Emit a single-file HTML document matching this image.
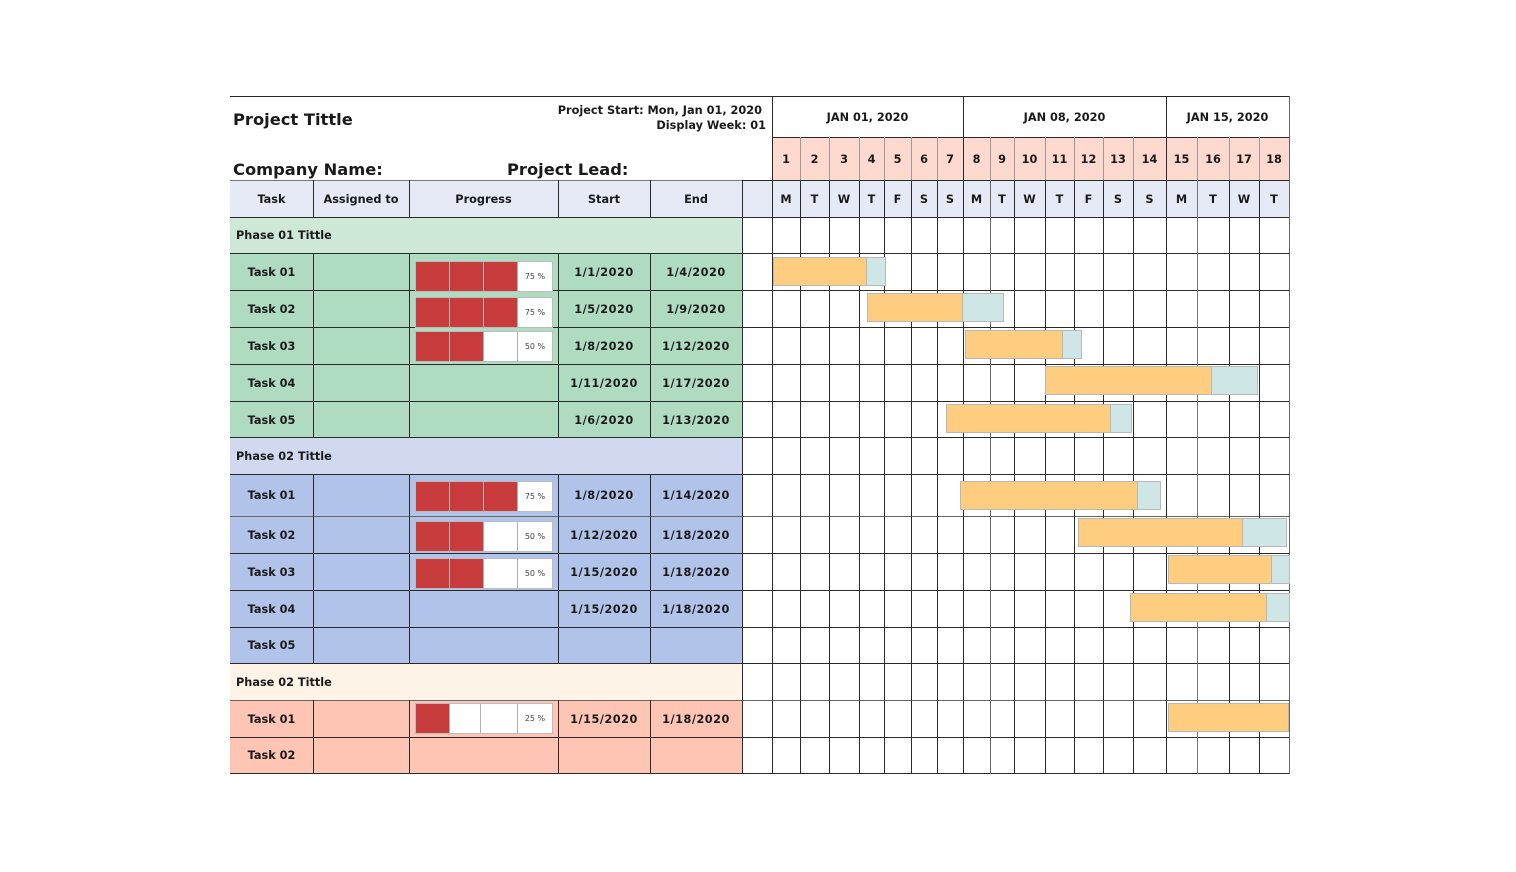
<!DOCTYPE html>
<html><head><meta charset="utf-8">
<style>
html,body{margin:0;padding:0;background:#fff;}
body{width:1516px;height:872px;position:relative;overflow:hidden;font-family:"DejaVu Sans","Liberation Sans",sans-serif;font-weight:bold;color:#1a1a1a;}
.a{position:absolute;}
.h{position:absolute;height:1px;background:#2a2a2a;}
.v{position:absolute;width:1px;background:#2a2a2a;}
.t{position:absolute;text-align:center;font-size:11.3px;white-space:nowrap;margin-top:1px;}
.d{letter-spacing:0.5px;}
.pb{position:absolute;left:415px;width:136px;height:29px;border:1px solid #bcbcbc;background:#fff;display:flex;}
.pb div{height:29px;border-right:1px solid #b0b0b0;box-sizing:border-box;}
.pb .r{background:#c83c3e;}
.pb .p{border-right:none;font-weight:normal;font-size:8px;color:#444;text-align:center;line-height:29px;}
.bar{position:absolute;height:29px;box-sizing:border-box;border:1px solid #b8b8b8;background:#fecd80;}
.cy{position:absolute;height:29px;box-sizing:border-box;border:1px solid #b8b8b8;background:#cfe6e7;}
</style></head><body>

<!-- backgrounds -->
<div class="a" style="left:230px;top:180px;width:1059px;height:37px;background:#e6eaf6"></div>
<div class="a" style="left:772px;top:137px;width:517px;height:43px;background:#fdd9cf"></div>
<div class="a" style="left:230px;top:217px;width:512px;height:36px;background:#cde8d7"></div>
<div class="a" style="left:230px;top:253px;width:512px;height:184px;background:#afdcc0"></div>
<div class="a" style="left:230px;top:437px;width:512px;height:37px;background:#d1d9f1"></div>
<div class="a" style="left:230px;top:474px;width:512px;height:189px;background:#b2c3e9"></div>
<div class="a" style="left:230px;top:663px;width:512px;height:37px;background:#fef3e7"></div>
<div class="a" style="left:230px;top:700px;width:512px;height:73px;background:#fec4b4"></div>

<!-- horizontal lines -->
<div class="h" style="left:230px;top:96px;width:1060px"></div>
<div class="h" style="left:772px;top:137px;width:518px"></div>
<div class="h" style="left:230px;top:180px;width:512px;background:#777"></div>
<div class="h" style="left:742px;top:180px;width:548px"></div>
<div class="h" style="left:230px;top:217px;width:1060px"></div>
<div class="h" style="left:230px;top:253px;width:1060px"></div>
<div class="h" style="left:230px;top:290px;width:1060px"></div>
<div class="h" style="left:230px;top:327px;width:1060px"></div>
<div class="h" style="left:230px;top:364px;width:1060px"></div>
<div class="h" style="left:230px;top:401px;width:1060px"></div>
<div class="h" style="left:230px;top:437px;width:1060px"></div>
<div class="h" style="left:230px;top:474px;width:1060px"></div>
<div class="h" style="left:230px;top:516px;width:1060px;background:#666"></div>
<div class="h" style="left:230px;top:553px;width:1060px"></div>
<div class="h" style="left:230px;top:590px;width:1060px"></div>
<div class="h" style="left:230px;top:627px;width:1060px"></div>
<div class="h" style="left:230px;top:663px;width:1060px"></div>
<div class="h" style="left:230px;top:700px;width:1060px;background:#666"></div>
<div class="h" style="left:230px;top:737px;width:1060px"></div>
<div class="h" style="left:230px;top:773px;width:1060px"></div>

<!-- left table verticals -->
<div class="v" style="left:313px;top:180px;height:37px"></div>
<div class="v" style="left:313px;top:253px;height:184px"></div>
<div class="v" style="left:313px;top:474px;height:189px"></div>
<div class="v" style="left:313px;top:700px;height:73px"></div>
<div class="v" style="left:409px;top:180px;height:37px"></div>
<div class="v" style="left:409px;top:253px;height:184px"></div>
<div class="v" style="left:409px;top:474px;height:189px"></div>
<div class="v" style="left:409px;top:700px;height:73px"></div>
<div class="v" style="left:558px;top:180px;height:37px"></div>
<div class="v" style="left:558px;top:253px;height:184px"></div>
<div class="v" style="left:558px;top:474px;height:189px"></div>
<div class="v" style="left:558px;top:700px;height:73px"></div>
<div class="v" style="left:650px;top:180px;height:37px"></div>
<div class="v" style="left:650px;top:253px;height:184px"></div>
<div class="v" style="left:650px;top:474px;height:189px"></div>
<div class="v" style="left:650px;top:700px;height:73px"></div>
<div class="v" style="left:742px;top:180px;height:594px"></div>
<div class="v" style="left:772px;top:96px;height:678px"></div>

<!-- gantt verticals -->
<div class="v" style="left:963px;top:96px;height:678px"></div>
<div class="v" style="left:1166px;top:96px;height:678px"></div>
<div class="v" style="left:1289px;top:96px;height:678px;background:#666"></div>

<div class="v" style="left:800px;top:137px;height:43px;background:#a09a9a"></div><div class="v" style="left:800px;top:180px;height:594px"></div>
<div class="v" style="left:829px;top:137px;height:43px;background:#a09a9a"></div><div class="v" style="left:829px;top:180px;height:594px"></div>
<div class="v" style="left:859px;top:137px;height:43px;background:#a09a9a"></div><div class="v" style="left:859px;top:180px;height:594px"></div>
<div class="v" style="left:884px;top:137px;height:43px;background:#a09a9a"></div><div class="v" style="left:884px;top:180px;height:594px"></div>
<div class="v" style="left:911px;top:137px;height:43px;background:#a09a9a"></div><div class="v" style="left:911px;top:180px;height:594px"></div>
<div class="v" style="left:937px;top:137px;height:43px;background:#a09a9a"></div><div class="v" style="left:937px;top:180px;height:594px"></div>
<div class="v" style="left:990px;top:137px;height:43px;background:#a09a9a"></div><div class="v" style="left:990px;top:180px;height:594px;background:#666"></div>
<div class="v" style="left:1014px;top:137px;height:43px;background:#a09a9a"></div><div class="v" style="left:1014px;top:180px;height:594px"></div>
<div class="v" style="left:1045px;top:137px;height:43px;background:#a09a9a"></div><div class="v" style="left:1045px;top:180px;height:594px"></div>
<div class="v" style="left:1074px;top:137px;height:43px;background:#a09a9a"></div><div class="v" style="left:1074px;top:180px;height:594px"></div>
<div class="v" style="left:1103px;top:137px;height:43px;background:#a09a9a"></div><div class="v" style="left:1103px;top:180px;height:594px"></div>
<div class="v" style="left:1133px;top:137px;height:43px;background:#a09a9a"></div><div class="v" style="left:1133px;top:180px;height:594px"></div>
<div class="v" style="left:1197px;top:137px;height:43px;background:#a09a9a"></div><div class="v" style="left:1197px;top:180px;height:594px;background:#777"></div>
<div class="v" style="left:1229px;top:137px;height:43px;background:#a09a9a"></div><div class="v" style="left:1229px;top:180px;height:594px"></div>
<div class="v" style="left:1259px;top:137px;height:43px;background:#a09a9a"></div><div class="v" style="left:1259px;top:180px;height:594px"></div>

<!-- title area -->
<div class="t" style="left:233px;top:107px;font-size:16.3px;line-height:24px;text-align:left">Project Tittle</div>
<div class="t" style="left:233px;top:157px;font-size:16.3px;line-height:24px;text-align:left">Company Name:</div>
<div class="t" style="left:507px;top:157px;font-size:16.3px;line-height:24px;text-align:left">Project Lead:</div>
<div class="t" style="left:460px;top:102px;width:302px;line-height:16px;text-align:right">Project Start: Mon, Jan 01, 2020</div>
<div class="t" style="left:460px;top:117px;width:306px;line-height:16px;text-align:right">Display Week: 01</div>

<!-- week labels -->
<div class="t" style="left:772px;top:96px;width:191px;line-height:41px">JAN 01, 2020</div>
<div class="t" style="left:963px;top:96px;width:203px;line-height:41px">JAN 08, 2020</div>
<div class="t" style="left:1166px;top:96px;width:123px;line-height:41px">JAN 15, 2020</div>

<!-- day numbers -->
<div class="t" style="left:772px;top:137px;width:28px;line-height:43px">1</div>
<div class="t" style="left:800px;top:137px;width:29px;line-height:43px">2</div>
<div class="t" style="left:829px;top:137px;width:30px;line-height:43px">3</div>
<div class="t" style="left:859px;top:137px;width:25px;line-height:43px">4</div>
<div class="t" style="left:884px;top:137px;width:27px;line-height:43px">5</div>
<div class="t" style="left:911px;top:137px;width:26px;line-height:43px">6</div>
<div class="t" style="left:937px;top:137px;width:26px;line-height:43px">7</div>
<div class="t" style="left:963px;top:137px;width:27px;line-height:43px">8</div>
<div class="t" style="left:990px;top:137px;width:24px;line-height:43px">9</div>
<div class="t" style="left:1014px;top:137px;width:31px;line-height:43px">10</div>
<div class="t" style="left:1045px;top:137px;width:29px;line-height:43px">11</div>
<div class="t" style="left:1074px;top:137px;width:29px;line-height:43px">12</div>
<div class="t" style="left:1103px;top:137px;width:30px;line-height:43px">13</div>
<div class="t" style="left:1133px;top:137px;width:33px;line-height:43px">14</div>
<div class="t" style="left:1166px;top:137px;width:31px;line-height:43px">15</div>
<div class="t" style="left:1197px;top:137px;width:32px;line-height:43px">16</div>
<div class="t" style="left:1229px;top:137px;width:30px;line-height:43px">17</div>
<div class="t" style="left:1259px;top:137px;width:30px;line-height:43px">18</div>

<!-- day letters -->
<div class="t" style="left:772px;top:180px;width:28px;line-height:37px">M</div>
<div class="t" style="left:800px;top:180px;width:29px;line-height:37px">T</div>
<div class="t" style="left:829px;top:180px;width:30px;line-height:37px">W</div>
<div class="t" style="left:859px;top:180px;width:25px;line-height:37px">T</div>
<div class="t" style="left:884px;top:180px;width:27px;line-height:37px">F</div>
<div class="t" style="left:911px;top:180px;width:26px;line-height:37px">S</div>
<div class="t" style="left:937px;top:180px;width:26px;line-height:37px">S</div>
<div class="t" style="left:963px;top:180px;width:27px;line-height:37px">M</div>
<div class="t" style="left:990px;top:180px;width:24px;line-height:37px">T</div>
<div class="t" style="left:1014px;top:180px;width:31px;line-height:37px">W</div>
<div class="t" style="left:1045px;top:180px;width:29px;line-height:37px">T</div>
<div class="t" style="left:1074px;top:180px;width:29px;line-height:37px">F</div>
<div class="t" style="left:1103px;top:180px;width:30px;line-height:37px">S</div>
<div class="t" style="left:1133px;top:180px;width:33px;line-height:37px">S</div>
<div class="t" style="left:1166px;top:180px;width:31px;line-height:37px">M</div>
<div class="t" style="left:1197px;top:180px;width:32px;line-height:37px">T</div>
<div class="t" style="left:1229px;top:180px;width:30px;line-height:37px">W</div>
<div class="t" style="left:1259px;top:180px;width:30px;line-height:37px">T</div>

<!-- header labels -->
<div class="t" style="left:230px;top:180px;width:83px;line-height:37px">Task</div>
<div class="t" style="left:313px;top:180px;width:96px;line-height:37px">Assigned to</div>
<div class="t" style="left:409px;top:180px;width:149px;line-height:37px">Progress</div>
<div class="t" style="left:558px;top:180px;width:92px;line-height:37px">Start</div>
<div class="t" style="left:650px;top:180px;width:92px;line-height:37px">End</div>

<!-- phase titles -->
<div class="t" style="left:236px;top:217px;line-height:36px;text-align:left">Phase 01 Tittle</div>
<div class="t" style="left:236px;top:437px;line-height:37px;text-align:left">Phase 02 Tittle</div>
<div class="t" style="left:236px;top:663px;line-height:37px;text-align:left">Phase 02 Tittle</div>

<!-- phase 1 rows -->
<div class="t" style="left:230px;top:253px;width:83px;line-height:37px">Task 01</div>
<div class="t d" style="left:558px;top:253px;width:92px;line-height:37px">1/1/2020</div>
<div class="t d" style="left:650px;top:253px;width:92px;line-height:37px">1/4/2020</div>
<div class="t" style="left:230px;top:290px;width:83px;line-height:37px">Task 02</div>
<div class="t d" style="left:558px;top:290px;width:92px;line-height:37px">1/5/2020</div>
<div class="t d" style="left:650px;top:290px;width:92px;line-height:37px">1/9/2020</div>
<div class="t" style="left:230px;top:327px;width:83px;line-height:37px">Task 03</div>
<div class="t d" style="left:558px;top:327px;width:92px;line-height:37px">1/8/2020</div>
<div class="t d" style="left:650px;top:327px;width:92px;line-height:37px">1/12/2020</div>
<div class="t" style="left:230px;top:364px;width:83px;line-height:37px">Task 04</div>
<div class="t d" style="left:558px;top:364px;width:92px;line-height:37px">1/11/2020</div>
<div class="t d" style="left:650px;top:364px;width:92px;line-height:37px">1/17/2020</div>
<div class="t" style="left:230px;top:401px;width:83px;line-height:37px">Task 05</div>
<div class="t d" style="left:558px;top:401px;width:92px;line-height:37px">1/6/2020</div>
<div class="t d" style="left:650px;top:401px;width:92px;line-height:37px">1/13/2020</div>

<!-- phase 2 rows -->
<div class="t" style="left:230px;top:474px;width:83px;line-height:42px">Task 01</div>
<div class="t d" style="left:558px;top:474px;width:92px;line-height:42px">1/8/2020</div>
<div class="t d" style="left:650px;top:474px;width:92px;line-height:42px">1/14/2020</div>
<div class="t" style="left:230px;top:516px;width:83px;line-height:37px">Task 02</div>
<div class="t d" style="left:558px;top:516px;width:92px;line-height:37px">1/12/2020</div>
<div class="t d" style="left:650px;top:516px;width:92px;line-height:37px">1/18/2020</div>
<div class="t" style="left:230px;top:553px;width:83px;line-height:37px">Task 03</div>
<div class="t d" style="left:558px;top:553px;width:92px;line-height:37px">1/15/2020</div>
<div class="t d" style="left:650px;top:553px;width:92px;line-height:37px">1/18/2020</div>
<div class="t" style="left:230px;top:590px;width:83px;line-height:37px">Task 04</div>
<div class="t d" style="left:558px;top:590px;width:92px;line-height:37px">1/15/2020</div>
<div class="t d" style="left:650px;top:590px;width:92px;line-height:37px">1/18/2020</div>
<div class="t" style="left:230px;top:627px;width:83px;line-height:36px">Task 05</div>

<!-- phase 3 rows -->
<div class="t" style="left:230px;top:700px;width:83px;line-height:37px">Task 01</div>
<div class="t d" style="left:558px;top:700px;width:92px;line-height:37px">1/15/2020</div>
<div class="t d" style="left:650px;top:700px;width:92px;line-height:37px">1/18/2020</div>
<div class="t" style="left:230px;top:737px;width:83px;line-height:36px">Task 02</div>

<!-- progress bars -->
<div class="pb" style="top:261px"><div class="r" style="width:34px"></div><div class="r" style="width:34px"></div><div class="r" style="width:34px"></div><div class="p" style="width:34px">75 %</div></div>
<div class="pb" style="top:297px"><div class="r" style="width:34px"></div><div class="r" style="width:34px"></div><div class="r" style="width:34px"></div><div class="p" style="width:34px">75 %</div></div>
<div class="pb" style="top:331px"><div class="r" style="width:34px"></div><div class="r" style="width:34px"></div><div style="width:34px"></div><div class="p" style="width:34px">50 %</div></div>
<div class="pb" style="top:481px"><div class="r" style="width:34px"></div><div class="r" style="width:34px"></div><div class="r" style="width:34px"></div><div class="p" style="width:34px">75 %</div></div>
<div class="pb" style="top:521px"><div class="r" style="width:34px"></div><div class="r" style="width:34px"></div><div style="width:34px"></div><div class="p" style="width:34px">50 %</div></div>
<div class="pb" style="top:558px"><div class="r" style="width:34px"></div><div class="r" style="width:34px"></div><div style="width:34px"></div><div class="p" style="width:34px">50 %</div></div>
<div class="pb" style="top:703px"><div class="r" style="width:34px"></div><div style="width:31px"></div><div style="width:37px"></div><div class="p" style="width:34px">25 %</div></div>

<!-- gantt bars -->
<div class="bar" style="left:773px;top:257px;width:94px"></div><div class="cy" style="left:866px;top:257px;width:20px"></div>
<div class="bar" style="left:867px;top:293px;width:96px"></div><div class="cy" style="left:962px;top:293px;width:42px"></div>
<div class="bar" style="left:965px;top:330px;width:98px"></div><div class="cy" style="left:1062px;top:330px;width:20px"></div>
<div class="bar" style="left:1045px;top:366px;width:167px"></div><div class="cy" style="left:1211px;top:366px;width:47px"></div>
<div class="bar" style="left:946px;top:404px;width:165px"></div><div class="cy" style="left:1110px;top:404px;width:22px"></div>
<div class="bar" style="left:960px;top:481px;width:178px"></div><div class="cy" style="left:1137px;top:481px;width:24px"></div>
<div class="bar" style="left:1078px;top:518px;width:165px"></div><div class="cy" style="left:1242px;top:518px;width:45px"></div>
<div class="bar" style="left:1168px;top:555px;width:104px"></div><div class="cy" style="left:1271px;top:555px;width:19px"></div>
<div class="bar" style="left:1130px;top:593px;width:137px"></div><div class="cy" style="left:1266px;top:593px;width:24px"></div>
<div class="bar" style="left:1168px;top:703px;width:121px"></div>

</body></html>
